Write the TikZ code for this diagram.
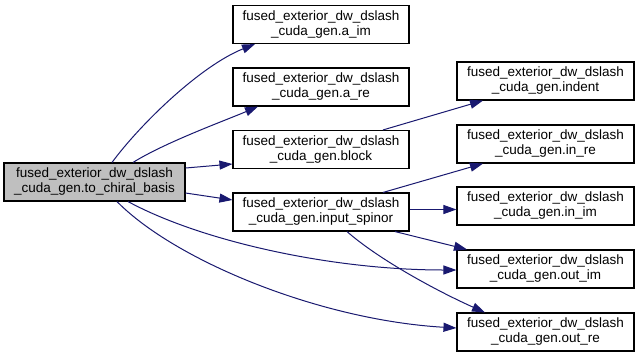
\documentclass[tikz,border=0pt]{standalone}
\usepackage{fontspec}
\setmainfont{Liberation Sans}
\usetikzlibrary{arrows.meta}
\definecolor{edgeblue}{HTML}{191970}
\definecolor{fillgray}{HTML}{BFBFBF}
\begin{document}
\begin{tikzpicture}[x=1pt,y=-1pt,
  fn/.style={draw=black, line width=1.1pt, fill=white, minimum width=176pt,
    minimum height=38pt, inner sep=0pt, align=center,
    font=\fontsize{13.5}{15}\selectfont},
  rightfn/.style={fn, minimum width=177pt},
  caller/.style={fn, fill=fillgray, minimum width=181pt},
  call/.style={draw=edgeblue, line width=1pt,
    -{Triangle[length=13pt,width=9pt,color=edgeblue]}}
]
\fill[white] (0,0) rectangle (639,357);
\useasboundingbox (0,0) rectangle (639,357);

% caller
\node[caller] (chiral) at (94.5,182) {fused\_exterior\_dw\_dslash\\\_cuda\_gen.to\_chiral\_basis};

% middle column
\node[fn] (aim)    at (321,24.5)  {fused\_exterior\_dw\_dslash\\\_cuda\_gen.a\_im};
\node[fn] (are)    at (321,87)    {fused\_exterior\_dw\_dslash\\\_cuda\_gen.a\_re};
\node[fn] (block)  at (321,149.5) {fused\_exterior\_dw\_dslash\\\_cuda\_gen.block};
\node[fn] (inspin) at (321,212)   {fused\_exterior\_dw\_dslash\\\_cuda\_gen.input\_spinor};

% right column
\node[rightfn] (indent) at (545.5,81)  {fused\_exterior\_dw\_dslash\\\_cuda\_gen.indent};
\node[rightfn] (inre)   at (545.5,144) {fused\_exterior\_dw\_dslash\\\_cuda\_gen.in\_re};
\node[rightfn] (inim)   at (545.5,206) {fused\_exterior\_dw\_dslash\\\_cuda\_gen.in\_im};
\node[rightfn] (outim)  at (545.5,269) {fused\_exterior\_dw\_dslash\\\_cuda\_gen.out\_im};
\node[rightfn] (outre)  at (545.5,332) {fused\_exterior\_dw\_dslash\\\_cuda\_gen.out\_re};

% calls from to_chiral_basis
\draw[call] ([xshift=17.5pt]chiral.north) .. controls +(28,-38) and +(-55,22) .. ([xshift=-66pt]aim.south);
\draw[call] ([xshift=38.5pt]chiral.north) .. controls +(32,-20) and +(-33,14) .. ([xshift=-63pt]are.south);
\draw[call] ([yshift=14pt]chiral.east) -- ([yshift=-14.5pt]block.west);
\draw[call] ([yshift=-11pt]chiral.east) -- ([yshift=12pt]inspin.west);
\draw[call] ([xshift=33.5pt]chiral.south) .. controls +(72,39) and +(-127,0) .. ([yshift=-1pt]outim.west);
\draw[call] ([xshift=22.5pt]chiral.south) .. controls +(58,59) and +(-137,-8) .. ([yshift=4pt]outre.west);

% calls from block and input_spinor
\draw[call] ([xshift=62pt]block.north) -- ([xshift=-62.5pt]indent.south);
\draw[call] ([xshift=62pt]inspin.north) -- ([xshift=-62.5pt]inre.south);
\draw[call] ([yshift=2.5pt]inspin.east) -- ([yshift=-3.5pt]inim.west);
\draw[call] ([xshift=74pt]inspin.south) -- ([xshift=-78.5pt]outim.north);
\draw[call] ([xshift=26pt]inspin.south) .. controls +(33,29) and +(-45,-20) .. ([xshift=-60.5pt]outre.north);
\end{tikzpicture}
\end{document}
